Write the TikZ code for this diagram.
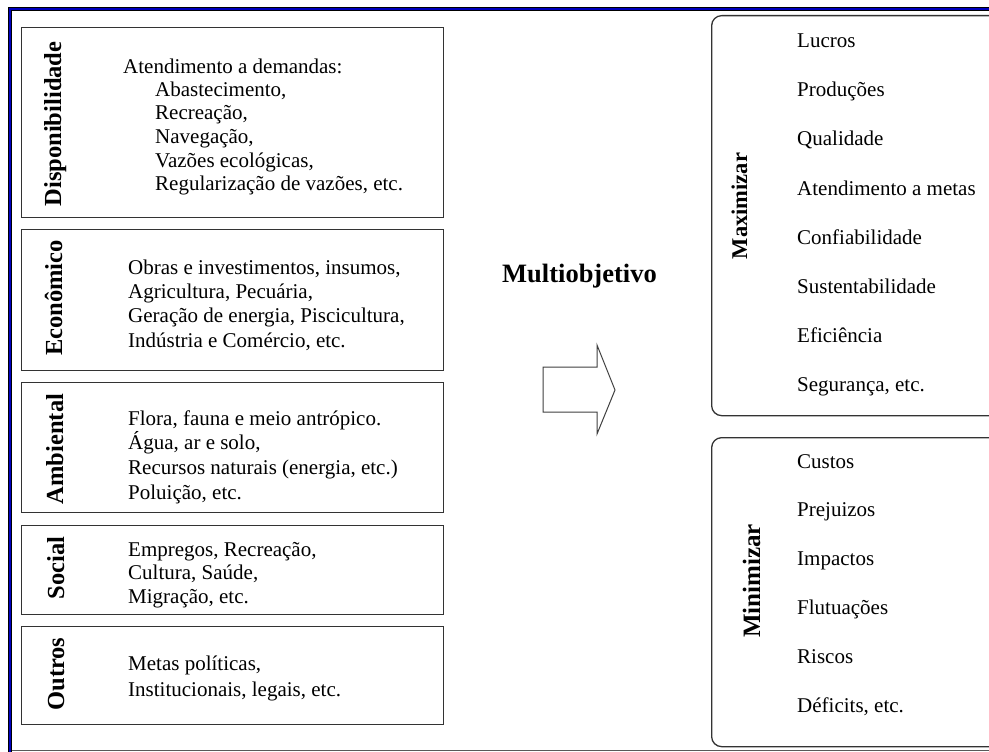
\documentclass[tikz,border=0pt]{standalone}
\usepackage{fontspec}
\setmainfont{Liberation Serif}
\begin{document}
\begin{tikzpicture}[x=1pt,y=-1pt,
  catbox/.style={draw=black!80, line width=1.3pt, inner sep=0pt, anchor=north west},
  goalbox/.style={catbox, rounded corners=10pt},
  cattitle/.style={rotate=90, anchor=base, inner sep=0pt, font=\bfseries\fontsize{24.5}{26}\selectfont},
  goaltitle/.style={cattitle},
  item/.style={anchor=base west, inner sep=0pt, font=\fontsize{21}{23}\selectfont},
]
\useasboundingbox (0,0) rectangle (989,752);
\clip (0,0) rectangle (989,752);
\fill[white] (0,0) rectangle (989,752);

% window frame
\draw[black!65, line width=1pt] (10,750.5) -- (995,750.5);
\draw[black, line width=4.5pt] (10,760) -- (10,9) -- (995,9);
\draw[blue!75!black, line width=2pt] (10,760) -- (10,9) -- (995,9);

% criteria boxes
\node[catbox, minimum width=422pt, minimum height=190pt] (disp) at (21,27) {};
\node[catbox, minimum width=422pt, minimum height=141pt] (econ) at (21,229) {};
\node[catbox, minimum width=422pt, minimum height=130pt] (amb)  at (21,382) {};
\node[catbox, minimum width=422pt, minimum height=89pt]  (soc)  at (21,525) {};
\node[catbox, minimum width=422pt, minimum height=98pt]  (out)  at (21,626) {};

\node[cattitle] (tdisp) at (61,124) {Disponibilidade};
\node[cattitle] (tecon) at (62,298) {Econômico};
\node[cattitle] (tamb)  at (63,449) {Ambiental};
\node[cattitle] (tsoc)  at (64,568) {Social};
\node[cattitle] (tout)  at (64,674) {Outros};

% availability
\node[item] (d0) at (123,74)  {Atendimento a demandas:};
\node[item] (d1) at (155,97)  {Abastecimento,};
\node[item] (d2) at (155,120) {Recreação,};
\node[item] (d3) at (155,143) {Navegação,};
\node[item] (d4) at (155,167) {Vazões ecológicas,};
\node[item] (d5) at (155,190) {Regularização de vazões, etc.};

% economic
\node[item] (e1) at (128,274) {Obras e investimentos, insumos,};
\node[item] (e2) at (128,298) {Agricultura, Pecuária,};
\node[item] (e3) at (128,322) {Geração de energia, Piscicultura,};
\node[item] (e4) at (128,347) {Indústria e Comércio, etc.};

% environmental
\node[item] (a1) at (128,425) {Flora, fauna e meio antrópico.};
\node[item] (a2) at (128,449) {Água, ar e solo,};
\node[item] (a3) at (128,474) {Recursos naturais (energia, etc.)};
\node[item] (a4) at (128,499) {Poluição, etc.};

% social
\node[item] (s1) at (128,556) {Empregos, Recreação,};
\node[item] (s2) at (128,579) {Cultura, Saúde,};
\node[item] (s3) at (128,603) {Migração, etc.};

% others
\node[item] (o1) at (128,670) {Metas políticas,};
\node[item] (o2) at (128,696) {Institucionais, legais, etc.};

% centre: heading and block arrow
\node[anchor=base west, inner sep=0pt, font=\bfseries\fontsize{26.5}{28}\selectfont] (multi) at (502,282) {Multiobjetivo};
\draw[black!75, line width=1pt, line join=miter]
  (543,367) -- (597,367) -- (597,345) -- (615,390) -- (597,434) -- (597,412) -- (543,412) -- cycle;

% objective boxes
\node[goalbox, minimum width=320pt, minimum height=400pt] (maxi) at (711,15) {};
\node[goalbox, minimum width=320pt, minimum height=309pt] (mini) at (711,437) {};

\node[goaltitle, font=\bfseries\fontsize{22.5}{24}\selectfont] (tmax) at (747,206) {Maximizar};
\node[goaltitle, font=\bfseries\fontsize{25}{27}\selectfont] (tmin) at (760,581) {Minimizar};

\foreach \t [count=\i] in {Lucros, Produções, Qualidade, Atendimento a metas, Confiabilidade, Sustentabilidade, Eficiência, {Segurança, etc.}} {
  \pgfmathsetmacro\yy{48+49*(\i-1)}
  \node[item] (mx\i) at (797,\yy) {\t};
}
\foreach \t [count=\i] in {Custos, Prejuizos, Impactos, Flutuações, Riscos, {Déficits, etc.}} {
  \pgfmathsetmacro\yy{468+48.8*(\i-1)}
  \node[item] (mn\i) at (797,\yy) {\t};
}
\end{tikzpicture}
\end{document}
